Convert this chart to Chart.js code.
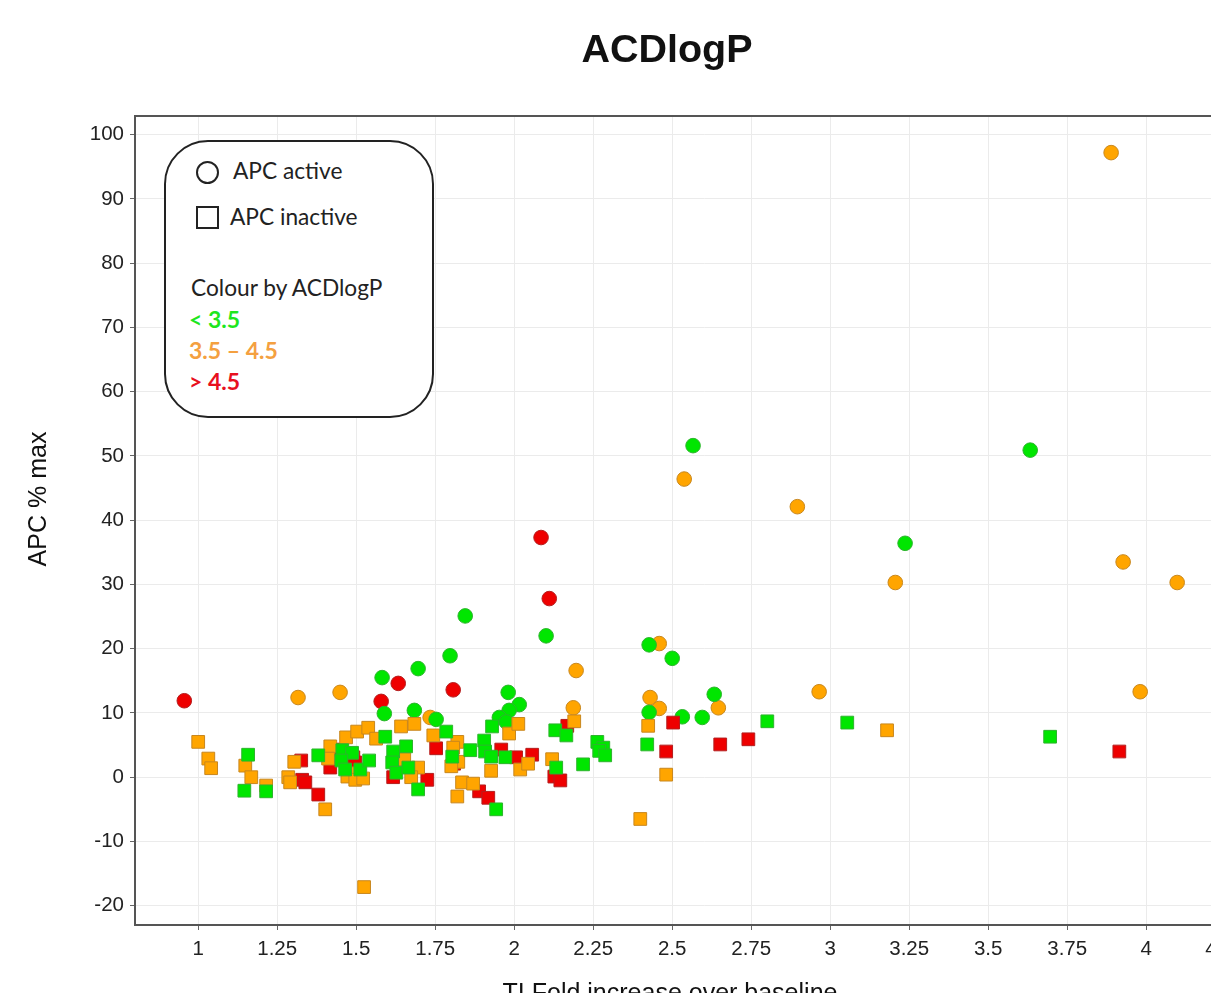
<!DOCTYPE html>
<html>
<head>
<meta charset="utf-8">
<title>ACDlogP</title>
<script src="https://cdn.jsdelivr.net/npm/chart.js@4.4.1/dist/chart.umd.min.js"></script>
<style>
  html, body { margin: 0; padding: 0; background: #fff; overflow: hidden; }
  #wrap { position: relative; width: 1340px; height: 1010px; }
  #chart { position: absolute; left: 0; top: 0; }
  .key { position: absolute; left: 164px; top: 140px; width: 266px; height: 274px;
         border: 2px solid #222; border-radius: 44px; background: #fff;
         font-family: Lato, "Open Sans", sans-serif; color: #222; font-size: 22.7px; }
  .key div { position: absolute; line-height: 26px; white-space: nowrap; }
  .key .sym-circle { left: 30px; top: 19px; width: 23px; height: 23px; box-sizing: border-box;
                     border: 2px solid #222; border-radius: 50%; }
  .key .sym-square { left: 30px; top: 64px; width: 23px; height: 23px; box-sizing: border-box;
                     border: 2px solid #222; }
  .key .b { font-weight: bold; font-size: 23px; }
</style>
</head>
<body>
<div id="wrap">
  <canvas id="chart" width="1340" height="1010"></canvas>
  <div class="key">
    <div class="sym-circle"></div>
    <div style="left:67px;top:16px">APC active</div>
    <div class="sym-square"></div>
    <div style="left:64px;top:62px">APC inactive</div>
    <div style="left:25px;top:133px">Colour by ACDlogP</div>
    <div class="b" style="left:23px;top:164px;color:#1ee61e">&lt; 3.5</div>
    <div class="b" style="left:23px;top:195px;color:#f4a040">3.5 – 4.5</div>
    <div class="b" style="left:23px;top:226px;color:#e8101e">&gt; 4.5</div>
  </div>
</div>
<script>
// Chart text
const chartTitle = 'ACDlogP';
const xTitle = 'TI Fold increase over baseline';
const yTitle = 'APC % max';

// Axis ticks
const xTicks = [1, 1.25, 1.5, 1.75, 2, 2.25, 2.5, 2.75, 3, 3.25, 3.5, 3.75, 4, 4.25];
const yTicks = [-20, -10, 0, 10, 20, 30, 40, 50, 60, 70, 80, 90, 100];

// APC active compounds: [fold increase, APC % max]
const activeLow = [ // ACDlogP < 3.5
  [1.582, 15.5], [1.589, 9.9], [1.696, 16.9], [1.684, 10.4], [1.797, 18.9], [1.845, 25.1],
  [1.753, 9.0], [1.981, 13.2], [2.016, 11.3], [1.984, 10.4], [1.953, 9.3], [1.975, 8.6],
  [2.101, 22.0], [2.427, 20.6], [2.427, 10.1], [2.566, 51.6], [2.500, 18.5], [2.532, 9.4],
  [2.595, 9.3], [2.633, 12.9], [3.237, 36.4], [3.633, 50.9]
];
const activeMid = [ // 3.5 - 4.5
  [1.316, 12.4], [1.449, 13.2], [1.734, 9.3], [2.196, 16.6], [2.187, 10.8], [2.459, 20.8],
  [2.430, 12.4], [2.459, 10.7], [2.538, 46.4], [2.646, 10.8], [2.896, 42.1], [2.965, 13.3],
  [3.206, 30.3], [3.889, 97.2], [3.927, 33.5], [4.098, 30.3], [3.981, 13.3]
];
const activeHigh = [ // > 4.5
  [0.956, 11.9], [1.579, 11.8], [1.633, 14.6], [1.807, 13.6], [2.085, 37.3], [2.111, 27.8]
];

// APC inactive compounds
const inactiveLow = [
  [1.158, 3.5], [1.146, -2.1], [1.215, -2.2], [1.380, 3.4], [1.456, 4.2], [1.487, 3.8],
  [1.453, 2.6], [1.465, 1.2], [1.513, 1.2], [1.541, 2.6], [1.592, 6.3], [1.617, 4.0],
  [1.658, 4.8], [1.614, 2.3], [1.627, 0.7], [1.665, 1.5], [1.696, -1.9], [1.785, 7.1],
  [1.804, 3.2], [1.861, 4.2], [1.905, 5.7], [1.908, 4.0], [1.927, 3.2], [1.930, 7.9],
  [1.972, 3.1], [1.943, -5.0], [2.130, 7.3], [2.165, 6.5], [2.133, 1.5], [2.218, 2.0],
  [2.263, 5.5], [2.282, 4.6], [2.269, 4.1], [2.288, 3.4], [2.421, 5.1], [2.801, 8.7],
  [3.054, 8.5], [3.696, 6.3]
];
const inactiveMid = [
  [1.000, 5.5], [1.032, 2.9], [1.041, 1.4], [1.149, 1.8], [1.168, 0.0], [1.215, -1.3],
  [1.285, 0.0], [1.291, -0.8], [1.304, 2.4], [1.402, -5.0], [1.418, 4.8], [1.411, 2.9],
  [1.468, 6.2], [1.503, 7.1], [1.538, 7.7], [1.563, 6.0], [1.472, 0.1], [1.506, 0.6],
  [1.497, -0.4], [1.522, -0.2], [1.525, -17.1], [1.642, 7.9], [1.684, 8.3], [1.652, 2.8],
  [1.696, 1.5], [1.674, 0.0], [1.744, 6.5], [1.820, 5.5], [1.807, 4.6], [1.823, 2.4],
  [1.801, 1.7], [1.835, -0.8], [1.870, -1.0], [1.820, -3.0], [1.984, 6.8], [2.013, 8.3],
  [1.927, 1.0], [2.019, 1.2], [2.044, 2.1], [2.120, 2.8], [2.190, 8.7], [2.424, 8.0],
  [2.399, -6.5], [2.481, 0.4], [3.180, 7.3]
];
const inactiveHigh = [
  [1.326, 2.6], [1.329, -0.4], [1.339, -0.8], [1.380, -2.7], [1.427, 4.3], [1.418, 1.5],
  [1.491, 3.1], [1.497, 2.3], [1.617, 0.0], [1.725, -0.4], [1.753, 4.5], [1.810, 2.1],
  [1.889, -2.2], [1.918, -3.2], [1.959, 4.3], [2.006, 3.1], [2.057, 3.5], [2.127, 0.1],
  [2.146, -0.5], [2.168, 8.0], [2.481, 4.0], [2.503, 8.5], [2.652, 5.1], [2.741, 5.9],
  [3.915, 4.0]
];

const colours = {
  low:  { fill: '#00e600', edge: '#2db42d' },
  mid:  { fill: '#ffa500', edge: '#c8871e' },
  high: { fill: '#ee0000', edge: '#b41e1e' }
};

const toPoints = arr => arr.map(([x, y]) => ({ x, y }));

function squares(label, arr, c) {
  return { label, data: toPoints(arr), pointStyle: 'rect', pointRadius: 9, pointHoverRadius: 9,
           backgroundColor: c.fill, borderColor: c.edge, borderWidth: 1 };
}
function circles(label, arr, c) {
  return { label, data: toPoints(arr), pointStyle: 'circle', pointRadius: 7.3, pointHoverRadius: 7.3,
           backgroundColor: c.fill, borderColor: c.edge, borderWidth: 1 };
}

const FONT = '"Liberation Sans", Arial, Helvetica, sans-serif';

// frame along the top/right of the plot and the chart titles
const framePlugin = {
  id: 'frame',
  afterDraw(chart) {
    const { ctx, chartArea: a } = chart;
    ctx.save();
    ctx.strokeStyle = '#555';
    ctx.lineWidth = 2;
    ctx.beginPath();
    ctx.moveTo(a.left, a.top);
    ctx.lineTo(a.right, a.top);
    ctx.lineTo(a.right, a.bottom);
    ctx.stroke();

    ctx.fillStyle = '#111';
    ctx.textAlign = 'center';
    ctx.textBaseline = 'alphabetic';
    ctx.font = 'bold 39.5px ' + FONT;
    ctx.fillText(chartTitle, 667, 62);
    ctx.font = '25px ' + FONT;
    ctx.fillText(xTitle, 670, 1001);
    ctx.translate(39, 499);
    ctx.rotate(-Math.PI / 2);
    ctx.textBaseline = 'middle';
    ctx.fillText(yTitle, 0, 0);
    ctx.restore();
  }
};

Chart.defaults.font.family = FONT;
Chart.defaults.color = '#222';

new Chart(document.getElementById('chart'), {
  type: 'scatter',
  data: {
    datasets: [
      squares('APC inactive, < 3.5', inactiveLow, colours.low),
      squares('APC inactive, 3.5 – 4.5', inactiveMid, colours.mid),
      squares('APC inactive, > 4.5', inactiveHigh, colours.high),
      circles('APC active, < 3.5', activeLow, colours.low),
      circles('APC active, 3.5 – 4.5', activeMid, colours.mid),
      circles('APC active, > 4.5', activeHigh, colours.high)
    ]
  },
  options: {
    responsive: false,
    animation: false,
    layout: { padding: { left: 0, top: 116, right: 67.4, bottom: 0 } },
    plugins: { legend: { display: false }, tooltip: { enabled: false } },
    scales: {
      x: {
        type: 'linear', min: 0.8, max: 4.4,
        afterBuildTicks: s => { s.ticks = xTicks.map(v => ({ value: v })); },
        afterFit: s => { s.height = 85; },
        grid: { color: '#ebebeb', lineWidth: 1, tickLength: 5, tickColor: '#666', tickWidth: 1 },
        border: { color: '#555', width: 2 },
        ticks: { font: { size: 20.5 }, color: '#222', padding: 7, maxRotation: 0, autoSkip: false,
                 callback: v => String(v) }
      },
      y: {
        type: 'linear', min: -23, max: 102.9,
        afterBuildTicks: s => { s.ticks = yTicks.map(v => ({ value: v })); },
        afterFit: s => { s.width = 135; },
        grid: { color: '#ebebeb', lineWidth: 1, tickLength: 5, tickColor: '#666', tickWidth: 1 },
        border: { color: '#555', width: 2 },
        ticks: { font: { size: 20.5 }, color: '#222', padding: 6, autoSkip: false,
                 callback: v => String(v) }
      }
    }
  },
  plugins: [framePlugin]
});
</script>
</body>
</html>
